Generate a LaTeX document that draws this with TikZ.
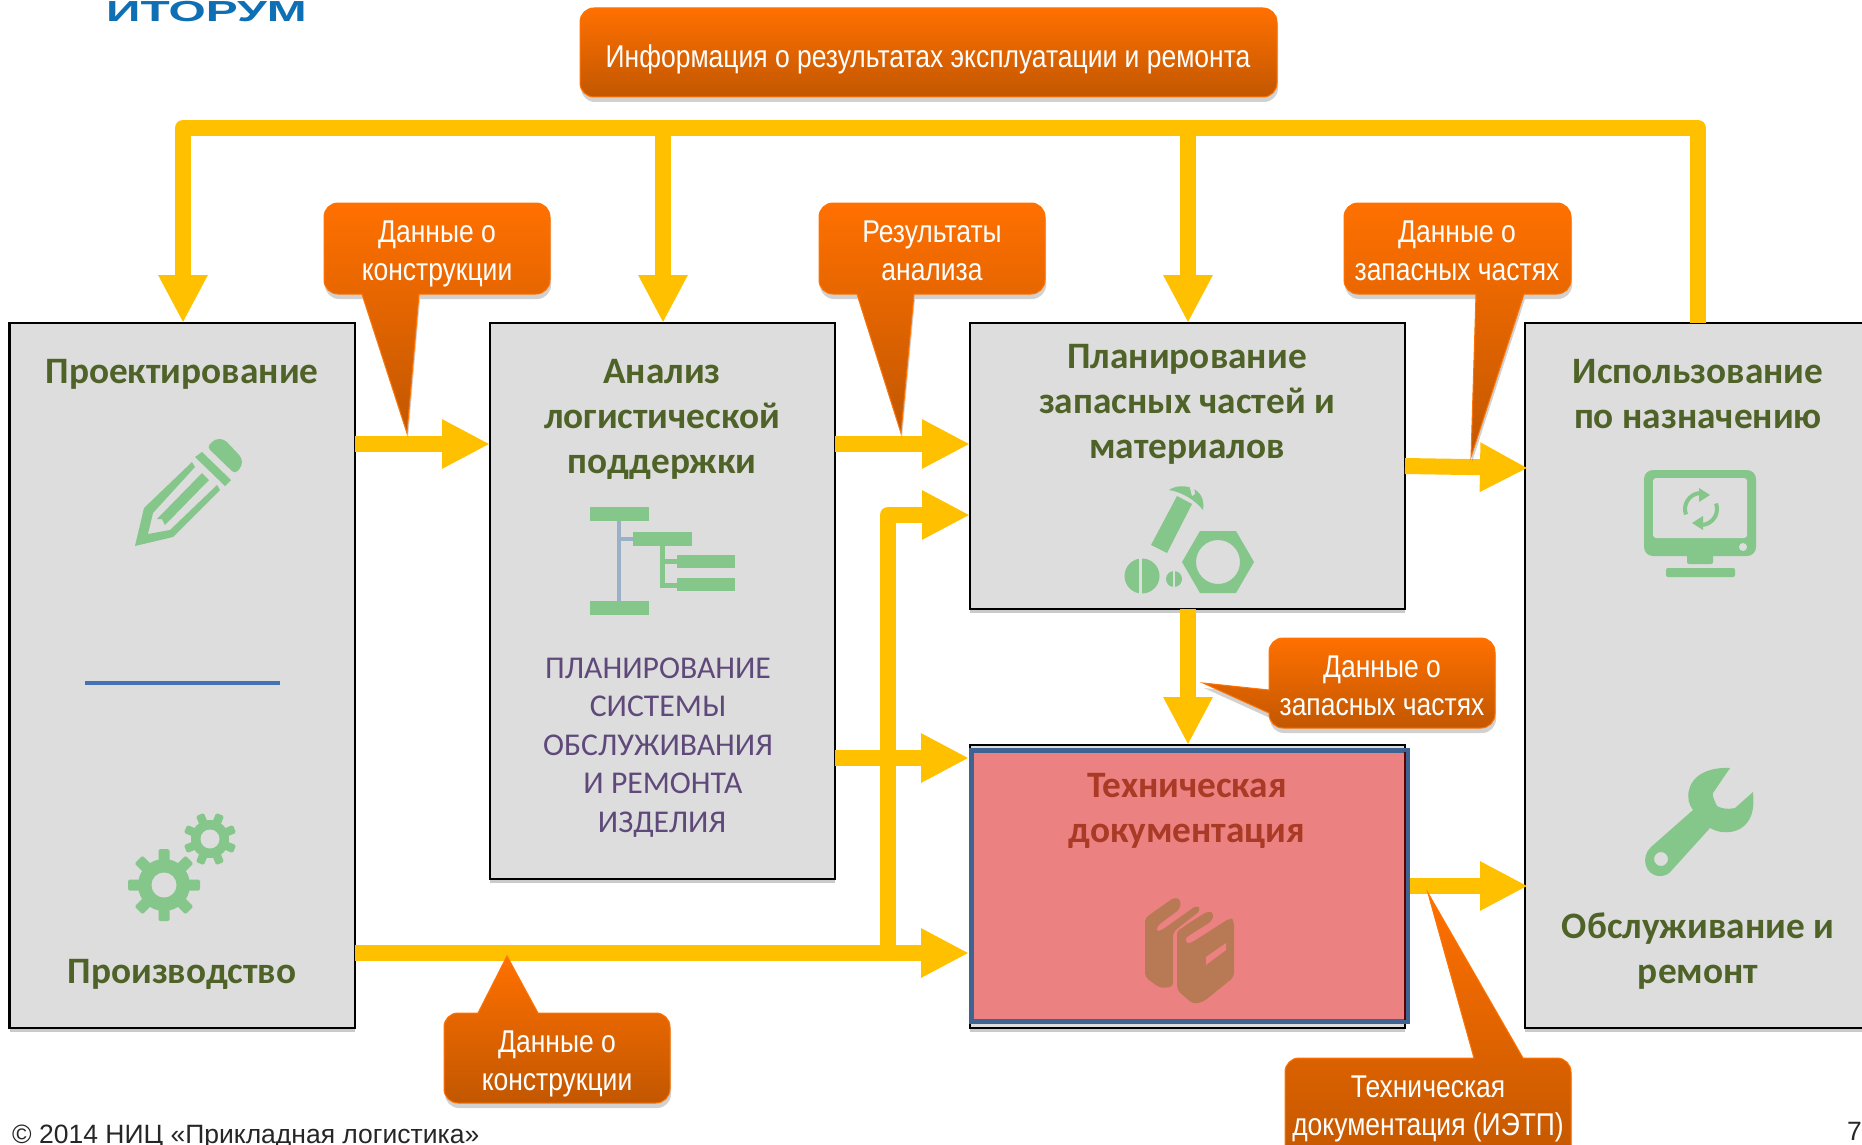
\documentclass[tikz,border=0pt]{standalone}
\usepackage{fontspec}
\setmainfont{Carlito}
\newfontfamily\arialnarrow[FakeStretch=0.84]{Liberation Sans}
\newfontfamily\arialfont{Liberation Sans}
\newfontfamily\logofont[FakeStretch=1.65]{Liberation Sans}
\usetikzlibrary{arrows.meta,shadows,calc}
\definecolor{gold}{HTML}{FFC000}
\definecolor{boxgray}{HTML}{DDDDDD}
\definecolor{olive}{HTML}{4F6228}
\definecolor{iconG}{HTML}{85C68A}
\definecolor{purp}{HTML}{5F497A}
\definecolor{redfill}{HTML}{EC8181}
\definecolor{redtext}{HTML}{A83A26}
\definecolor{frameB}{HTML}{3E6391}
\definecolor{bookC}{HTML}{B87A55}
\definecolor{orT}{HTML}{FF7000}
\definecolor{orB}{HTML}{C25700}
\definecolor{logoB}{HTML}{0F6FB5}
\definecolor{sepblue}{HTML}{4472B4}
\definecolor{treeline}{HTML}{9AB0C8}
\tikzset{
  box/.style={draw=black,line width=2.4pt,fill=boxgray,inner sep=0pt,outer sep=0pt,
    drop shadow={shadow xshift=0pt,shadow yshift=-4pt,opacity=.35,fill=black!60}},
  conn/.style={draw=gold,line width=16pt,line join=round,
    -{Triangle[length=48pt,width=46pt]}},
  title/.style={font=\fontsize{37.3}{45}\selectfont\bfseries,text=olive,align=center,inner sep=0pt},
  calltxt/.style={font=\arialnarrow\fontsize{31.5}{38}\selectfont,text=white,align=center,inner sep=0pt},
  callout/.style={top color=orT,bottom color=orB,draw=orT!80!orange,line width=1pt,rounded corners=0pt,
    drop shadow={shadow xshift=1pt,shadow yshift=-5pt,opacity=.3,fill=black!60}},
  icon/.style={fill=iconG,draw=none},
}
\begin{document}
\begin{tikzpicture}[x=1pt,y=-1pt]
\useasboundingbox (0,0) rectangle (1862,1145);
\begin{scope}
\clip (0,0) rectangle (1862,1145);
% logo
\node[name=logo,anchor=base west,inner sep=0pt,font=\logofont\bfseries\fontsize{29}{29}\selectfont,text=logoB] at (106,22) {ИТОРУМ};

% boxes
\node[box,name=b1,minimum width=345.5pt,minimum height=705pt] at (182.25,675.5) {};
\node[box,name=b2,minimum width=345pt,minimum height=556pt] at (662.5,601) {};
\node[box,name=b3,minimum width=435pt,minimum height=286pt] at (1187.5,466) {};
\node[box,name=b4,minimum width=435pt,minimum height=283pt] at (1187.5,886.5) {};
\node[box,name=b5,minimum width=345pt,minimum height=705pt] at (1697.5,675.5) {};
\node[name=b4r,draw=frameB,line width=5pt,fill=redfill,minimum width=436pt,minimum height=271pt,inner sep=0pt,outer sep=2.5pt] at (1189.5,886) {};
\coordinate (redA) at (1405,752);
\coordinate (redB) at (1405,1020);
\draw[draw=black!40!red!60!black,line width=1.5pt] (redA) -- (redB);

% connectors
\coordinate (fbTop) at (1698,128);
\coordinate (fbL) at (183,128);
\coordinate (fbM1) at (663,128);
\coordinate (fbM2) at (1188,128);
\coordinate (junc) at (888,953);
\draw[conn] (b5.north -| fbTop) -- (fbTop) -- (fbL) -- (fbL |- b1.north);
\draw[conn] (fbM1) -- (fbM1 |- b2.north);
\draw[conn] (fbM2) -- (fbM2 |- b3.north);
\draw[conn] (b1.east |- 0,444) -- (b2.west |- 0,444);
\draw[conn] (b2.east |- 0,444) -- (b3.west |- 0,444);
\draw[conn] (b2.east |- 0,758) -- (b4r.west |- 0,758);
\draw[conn] (b1.east |- 0,953) -- (b4r.west |- 0,953);
\draw[conn] (junc) -- (junc |- 0,515) -- (b3.west |- 0,515);
\draw[conn] (b3.south -| fbM2) -- (b4.north -| fbM2);
\draw[conn] (b3.east |- 0,466) -- ([xshift=3pt]b5.west |- 0,468);
\draw[conn] (b4r.east |- 0,886) -- ([xshift=3pt]b5.west |- 0,886);

% separator line
\coordinate (sepL) at (85,683);
\coordinate (sepR) at (280,683);
\draw[draw=sepblue,line width=3.5pt] (sepL) -- (sepR);

% top banner
\shade[callout,rounded corners=14pt] (580,8) rectangle (1277,97);
\node[calltxt,name=topbanner] at (928,59.5) {Информация о результатах эксплуатации и ремонта};

% callouts
\shade[callout] (338,203) [rounded corners=14pt] -- (550,203) -- (550,294) [rounded corners=0pt] -- (419,294) -- (407,433) -- (362,294) [rounded corners=14pt] -- (324,294) -- (324,203) -- (338,203);
\node[calltxt,name=c1] at (437,253.5) {Данные о\\конструкции};
\shade[callout] (833,203) [rounded corners=14pt] -- (1045,203) -- (1045,294) [rounded corners=0pt] -- (914,294) -- (901,433) -- (857,294) [rounded corners=14pt] -- (819,294) -- (819,203) -- (833,203);
\node[calltxt,name=c2] at (932,251) {Результаты\\анализа};
\shade[callout] (1358,203) [rounded corners=14pt] -- (1571,203) -- (1571,294) [rounded corners=0pt] -- (1524,294) -- (1471,457) -- (1476,294) [rounded corners=14pt] -- (1344,294) -- (1344,203) -- (1358,203);
\node[calltxt,name=c3] at (1457,251) {Данные о\\запасных частях};
\shade[callout] (1283,638) [rounded corners=14pt] -- (1495,638) -- (1495,728) -- (1269,728) [rounded corners=0pt] -- (1269,713) -- (1203,683) -- (1269,690) [rounded corners=14pt] -- (1269,638) -- (1283,638);
\node[calltxt,name=c4] at (1382,686) {Данные о\\запасных частях};
\shade[callout] (458,1013) -- (478,1013) -- (507,956) -- (538,1013) [rounded corners=14pt] -- (670,1013) -- (670,1103) -- (444,1103) -- (444,1013) -- (458,1013);
\node[calltxt,name=c5] at (557,1063.5) {Данные о\\конструкции};
\shade[callout] (1299,1058) -- (1474,1058) -- (1428,893) -- (1523,1058) [rounded corners=14pt] -- (1571,1058) -- (1571,1170) -- (1285,1170) -- (1285,1058) -- (1299,1058);
\node[calltxt,name=c6] at (1428,1108.5) {Техническая\\документация (ИЭТП)};

% titles
\node[title,name=t1] at (182,374.5) {Проектирование};
\node[title,name=t1b] at (182,974.5) {Производство};
\node[title,name=t2] at (662,419.5) {Анализ\\логистической\\поддержки};
\node[title,name=t3] at (1187,404.5) {Планирование\\запасных частей и\\материалов};
\node[title,text=redtext,name=t4] at (1187,810.5) {Техническая\\документация};
\node[title,name=t5] at (1698,394) {Использование\\по назначению};
\node[title,name=t5b] at (1698,951.5) {Обслуживание и\\ремонт};
\node[name=pl,font=\fontsize{31.7}{38.6}\selectfont,text=purp,align=center,inner sep=0pt] at (658,747.5) {ПЛАНИРОВАНИЕ\\СИСТЕМЫ\\ОБСЛУЖИВАНИЯ\\\hspace*{10pt}И РЕМОНТА\\\hspace*{8pt}ИЗДЕЛИЯ};

% footer
\node[name=foot,anchor=base west,inner sep=0pt,font=\arialfont\fontsize{26.5}{26.5}\selectfont,text=black!85] at (12,1143) {© 2014 НИЦ «Прикладная логистика»};
\node[name=pgnum,anchor=base east,inner sep=0pt,font=\arialfont\fontsize{26.5}{26.5}\selectfont,text=black!85] at (1862,1140) {7};

% pencil icon
\fill[icon] (135,546) -- (144,508) -- (192,462) -- (195,467) -- (153,513) -- (148,534) -- (170,530) -- (217,485) -- (220,490) -- (173,537) -- cycle;
\fill[icon] (157,519) -- (202,473) -- (209,480) -- (165,525) -- (162,519) -- cycle;
\fill[icon] (195,457) -- (202,452) -- (231,480) -- (225,486) -- cycle;
\fill[icon,rounded corners=4pt] (207,447) -- (215,439) -- (224,439) -- (242,458) -- (242,466) -- (235,474) -- cycle;

% gears
\foreach \cx/\cy/\ro/\rr/\rh/\tw/\off in {164/885/36/26/12.5/11/0, 210/839/26.5/19/9.5/8.5/22.5}{
  \begin{scope}[shift={(\cx,\cy)}]
    \fill[icon] (0,0) circle (\rr);
    \foreach \a in {0,45,...,315}{
      \fill[icon,rotate=\a+\off,rounded corners=1.5pt] (\rr-3,-\tw/2) rectangle (\ro,\tw/2);
    }
    \fill[boxgray] (0,0) circle (\rh);
  \end{scope}
}

% hierarchy icon
\draw[line width=3.5pt,draw=treeline] (619,521) -- (619,601) (619,539) -- (633,539);
\draw[draw=iconG,line width=5pt] (662,546) -- (662,585) -- (677,585) (662,561.5) -- (677,561.5);
\fill[icon] (590,507) rectangle (649,521);
\fill[icon] (633,532) rectangle (692,546);
\fill[icon] (677,555) rectangle (735,568);
\fill[icon] (677,578) rectangle (735,591);
\fill[icon] (590,601) rectangle (649,615);

% bolts icon
\fill[icon,even odd rule] (1254,562) -- (1236,593) -- (1200,593) -- (1182,562) -- (1200,531) -- (1236,531) -- cycle (1218,562) circle (22);
\fill[icon] (1151,545) -- (1167,553) -- (1192,504) -- (1177,496) -- cycle;
\fill[icon] (1169,490) .. controls (1180,482) and (1207,486) .. (1203,510) .. controls (1195,500) and (1182,492) .. (1169,490) -- cycle;
\fill[boxgray] (1189,484) -- (1194,486) -- (1195,494) -- (1192,496) -- cycle;
\fill[icon] (1142,576) circle (17.5);
\fill[boxgray] (1139,557) rectangle (1142,595);
\fill[icon] (1174,579) circle (8);
\fill[boxgray] (1173,570) rectangle (1175,588);

% monitor icon
\fill[icon,rounded corners=9pt] (1644,470) rectangle (1756,556);
\fill[boxgray,rounded corners=3pt] (1653,478) rectangle (1747,538);
\fill[boxgray] (1743,547) circle (4);
\fill[icon,rounded corners=2pt] (1687,550) rectangle (1713,564);
\fill[icon,rounded corners=2pt] (1666,568) rectangle (1735,577);
\draw[draw=iconG,line width=4pt] (1701,493) arc[start angle=90,end angle=200,radius=16pt];
\draw[draw=iconG,line width=4pt] (1701,525) arc[start angle=270,end angle=380,radius=16pt];
\fill[icon] (1699,488) -- (1710,495) -- (1699,502) -- cycle;
\fill[icon] (1703,530) -- (1692,523) -- (1703,516) -- cycle;

% wrench icon
\fill[icon,even odd rule] (1730,768) .. controls (1712,767) and (1693,773) .. (1689,790)
  .. controls (1687,798) and (1689,805) .. (1693,810) -- (1651,847)
  .. controls (1640,857) and (1645,876) .. (1660,876) .. controls (1665,876) and (1669,874) .. (1672,870)
  -- (1710,828) .. controls (1720,834) and (1735,834) .. (1744,826) .. controls (1754,817) and (1754,804) .. (1753,792)
  -- (1735,808) .. controls (1728,810) and (1720,808) .. (1717,806) .. controls (1714,800) and (1712,795) .. (1713,793) -- cycle
  (1661,859) circle (7);

% books icon
\fill[bookC,rounded corners=4pt] (1145,977) -- (1145,925) .. controls (1145,918) and (1148,916) .. (1152,913) -- (1175,897) -- (1181,900) -- (1180,909) -- (1157,926) -- (1156,932) -- (1162,930) -- (1197,905) -- (1201,910) -- (1173,932) -- (1173,987) -- (1160,988) -- cycle;
\fill[bookC,rounded corners=4pt] (1177,990) -- (1177,938) .. controls (1177,930) and (1182,928) .. (1186,925) -- (1208,911) -- (1214,913) -- (1212,921) -- (1185,938) -- (1186,944) -- (1191,943) -- (1230,918) -- (1234,920) -- (1234,977) -- (1203,1002) -- (1193,1004) -- cycle;
\fill[redfill] (1206,957) -- (1226,943) -- (1226,950) -- (1206,965) -- cycle;
\end{scope}
\end{tikzpicture}
\end{document}
